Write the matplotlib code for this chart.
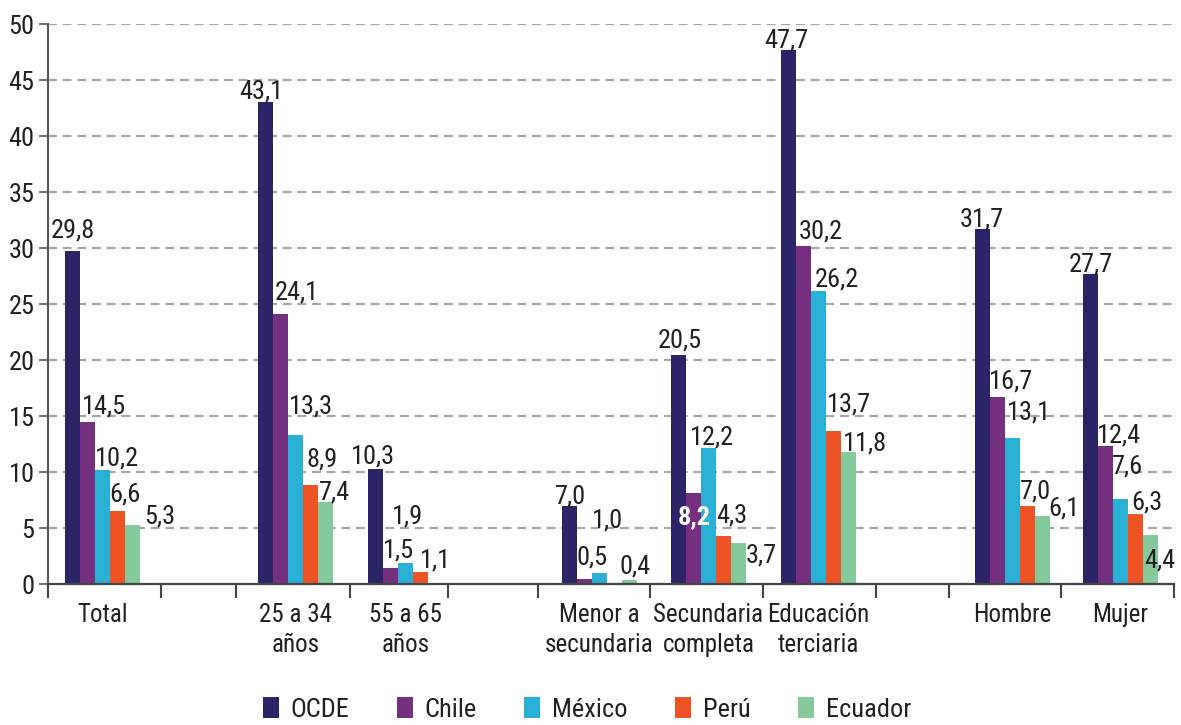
import numpy as np
import matplotlib
matplotlib.use("Agg")
import matplotlib.pyplot as plt
from matplotlib.patches import Patch
from matplotlib.ticker import FixedLocator, NullFormatter

plt.rcParams['font.family'] = ['Roboto Condensed', 'Open Sans Condensed',
                               'Liberation Sans Narrow', 'DejaVu Sans']
plt.rcParams['font.stretch'] = 'condensed'

# ---- data -------------------------------------------------------------
groups = ["Total", "25 a 34\naños", "55 a 65\naños", "Menor a\nsecundaria",
          "Secundaria\ncompleta", "Educación\nterciaria", "Hombre", "Mujer"]
series_names = ["OCDE", "Chile", "México", "Perú", "Ecuador"]

ocde    = [29.8, 43.1, 10.3, 7.0, 20.5, 47.7, 31.7, 27.7]
chile   = [14.5, 24.1, 1.5, 0.5, 8.2, 30.2, 16.7, 12.4]
mexico  = [10.2, 13.3, 1.9, 1.0, 12.2, 26.2, 13.1, 7.6]
peru    = [6.6, 8.9, 1.1, np.nan, 4.3, 13.7, 7.0, 6.3]
ecuador = [5.3, 7.4, np.nan, 0.4, 3.7, 11.8, 6.1, 4.4]

y_ticks = [0, 5, 10, 15, 20, 25, 30, 35, 40, 45, 50]

# ---- layout -----------------------------------------------------------
colors = ["#2b2466", "#74307e", "#2bb0d5", "#ee5326", "#84c99a"]
text_color = "#231f20"

group_x = [0.532, 2.418, 3.493, 5.388, 6.453, 7.528, 9.423, 10.478]
separators = [0, 1.104, 1.836, 2.949, 3.906, 4.785, 5.879, 6.982,
              8.086, 8.799, 9.893, 11.0]
bar_w = 0.1465

# value-label offsets in pixels (dx, dy); OCDE labels are centred,
# the others start at the left edge of their bar
label_off = [
    [(1, 13), (-4, 3), (-2, 6), (1, 3), (1, 7), (-2, 3), (-1, 3), (0, 3)],
    [(2, 9), (2, 15), (0, 10), (0, 14), (-8, -32), (3, 8), (-1, 9), (-1, 3)],
    [(0, 5), (1, 22), (-6, 40), (0, 46), (-11, 3), (4, 4), (2, 18), (-1, 26)],
    [(0, 9), (4, 18), (7, 5), None, (0, 14), (1, 19), (0, 8), (3, 4)],
    [(19, 2), (1, 2), None, (-2, 7), (15, -19), (2, 2), (13, 1), (1, -32)],
]

fs = 19
fs_cat = 18

fig = plt.figure(figsize=(11.81, 7.25), dpi=100)
ax = fig.add_axes([0.0404, 0.1938, 0.9537, 0.7727])

all_series = [ocde, chile, mexico, peru, ecuador]
gx = np.array(group_x)
for si, vals in enumerate(all_series):
    vals = np.array(vals, dtype=float)
    lefts = gx - 2.5 * bar_w + si * bar_w
    ax.bar(lefts, vals, width=bar_w, align="edge", color=colors[si],
           linewidth=0, zorder=3)
    for gi, v in enumerate(vals):
        if np.isnan(v):
            continue
        dx, dy = label_off[si][gi]
        txt = f"{v:.1f}".replace(".", ",")
        if si == 0:
            xy = (lefts[gi] + bar_w / 2, v)
            ha = "center"
        else:
            xy = (lefts[gi], v)
            ha = "left"
        white = (si == 1 and gi == 4)
        ax.annotate(txt, xy=xy, xytext=(dx, dy), textcoords="offset pixels",
                    ha=ha, va="baseline", fontsize=fs,
                    color="white" if white else text_color,
                    fontweight="bold" if white else "normal", zorder=5)

ax.set_xlim(0, 11)
ax.set_ylim(0, 50)
ax.set_yticks(y_ticks)
ax.set_yticklabels([str(t) for t in y_ticks])
for t in y_ticks[1:]:
    ax.axhline(t, color="#a6a6a6", lw=1.6, ls=(0, (4, 2.6)), zorder=1)

ax.set_xticks(group_x)
ax.set_xticklabels(groups, fontsize=fs_cat, color=text_color, linespacing=1.35)
ax.xaxis.set_minor_locator(FixedLocator(separators))
ax.xaxis.set_minor_formatter(NullFormatter())
ax.tick_params(axis="x", which="major", length=0, pad=13)
ax.tick_params(axis="x", which="minor", length=10, width=1.5,
               color="#444444", direction="out")
ax.tick_params(axis="y", length=6.5, width=1.3, color="#666666", pad=3,
               labelsize=fs, labelcolor=text_color)

for s in ("top", "right"):
    ax.spines[s].set_visible(False)
ax.spines["left"].set_color("#555555")
ax.spines["left"].set_linewidth(1.5)
ax.spines["bottom"].set_color("#444444")
ax.spines["bottom"].set_linewidth(1.6)
ax.spines["bottom"].set_zorder(4)

handles = [Patch(facecolor=c, edgecolor="none", label=n)
           for c, n in zip(colors, series_names)]
fig.legend(handles=handles, loc="center", bbox_to_anchor=(0.497, 0.021),
           ncol=5, frameon=False, fontsize=fs, handlelength=0.6,
           handleheight=0.85, handletextpad=0.45, columnspacing=1.8,
           labelcolor=text_color)

fig.savefig("out.png", dpi=100)
